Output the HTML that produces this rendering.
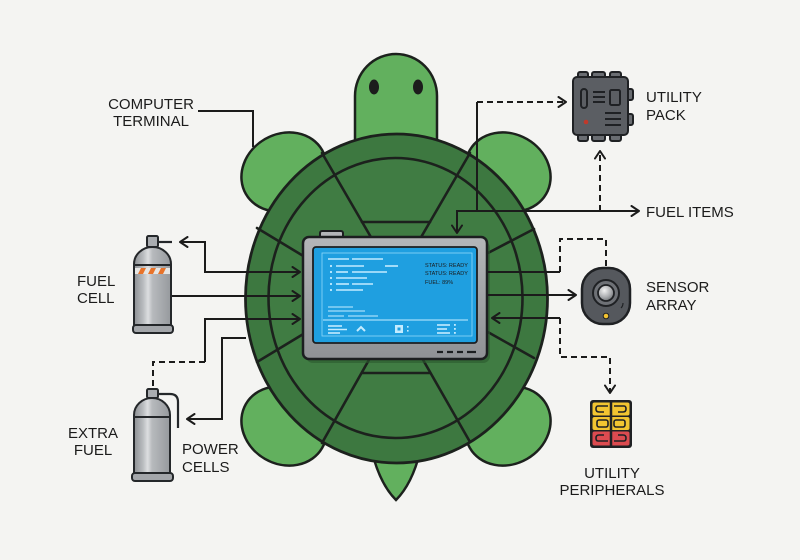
<!DOCTYPE html>
<html><head><meta charset="utf-8"><style>
html,body{margin:0;padding:0;background:#f4f4f2;}
svg{display:block;}
text{font-family:"Liberation Sans",Arial,sans-serif;fill:#1b1b1b;}
</style></head><body>
<svg width="800" height="560" viewBox="0 0 800 560" xmlns="http://www.w3.org/2000/svg">
<defs>
<marker id="ar" markerUnits="userSpaceOnUse" markerWidth="12" markerHeight="12" refX="9" refY="6" orient="auto-start-reverse">
<path d="M1.5,1 L9,6 L1.5,11" fill="none" stroke="#1b1b1b" stroke-width="2" stroke-linecap="round" stroke-linejoin="round"/>
</marker>
<linearGradient id="can" x1="0" y1="0" x2="1" y2="0">
<stop offset="0" stop-color="#8c8f93"/><stop offset="0.25" stop-color="#b9bcbf"/><stop offset="0.38" stop-color="#dcdee0"/><stop offset="0.5" stop-color="#b7babd"/><stop offset="1" stop-color="#96999d"/>
</linearGradient>
<linearGradient id="bez" x1="0" y1="0" x2="0" y2="1">
<stop offset="0" stop-color="#b4b6b9"/><stop offset="1" stop-color="#8f9195"/>
</linearGradient>
<radialGradient id="lens" cx="0.4" cy="0.35" r="0.7">
<stop offset="0" stop-color="#f2f2f2"/><stop offset="0.6" stop-color="#a9abae"/><stop offset="1" stop-color="#6b6e72"/>
</radialGradient>
</defs>
<rect width="800" height="560" fill="#f4f4f2"/>

<!-- flippers -->
<g fill="#62b05e" stroke="#1c211d" stroke-width="2.5">
<ellipse cx="284" cy="172" rx="44" ry="38" transform="rotate(-30 284 172)"/>
<ellipse cx="508" cy="172" rx="44" ry="38" transform="rotate(30 508 172)"/>
<ellipse cx="284" cy="426" rx="44" ry="38" transform="rotate(30 284 426)"/>
<ellipse cx="508" cy="426" rx="44" ry="38" transform="rotate(-30 508 426)"/>
<path d="M372,452 Q380,484 396,500 Q412,484 420,452 Z"/>
<path d="M355,150 V96 A41,42 0 0 1 437,96 V150 Z"/>
</g>
<ellipse cx="374" cy="87" rx="5" ry="7.5" fill="#1c1c1c"/>
<ellipse cx="418" cy="87" rx="5" ry="7.5" fill="#1c1c1c"/>

<!-- shell -->
<ellipse cx="396.5" cy="298.5" rx="151" ry="164.5" fill="#3d7840" stroke="#1c211d" stroke-width="2.8"/>
<ellipse cx="395.5" cy="298" rx="127" ry="140" fill="#407c43" stroke="#1c211d" stroke-width="2.6"/>
<g stroke="#1c211d" stroke-width="2.6" fill="none" stroke-linecap="round">
<line x1="322" y1="153" x2="372" y2="239"/>
<line x1="470" y1="153" x2="420" y2="239"/>
<line x1="322" y1="443" x2="370" y2="358"/>
<line x1="470" y1="442" x2="422" y2="358"/>
<line x1="362" y1="222" x2="430" y2="222"/>
<line x1="362" y1="373" x2="430" y2="373"/>
<line x1="257" y1="228" x2="305" y2="257"/>
<line x1="257" y1="362" x2="305" y2="333"/>
<line x1="534" y1="229" x2="486" y2="254"/>
<line x1="534" y1="358" x2="486" y2="331"/>
</g>

<!-- screen -->
<rect x="306" y="241" width="184" height="122" rx="7" fill="#2c5a2f" opacity="0.6"/>
<rect x="320" y="231" width="23" height="9" rx="2" fill="#b3b5b8" stroke="#1c1e20" stroke-width="2"/>
<rect x="303" y="237" width="184" height="122" rx="6" fill="url(#bez)" stroke="#1c1e20" stroke-width="2.5"/>
<rect x="313" y="247" width="164" height="96" rx="3" fill="#1f9fe0" stroke="#1c1e20" stroke-width="1.8"/>
<rect x="322" y="253" width="150" height="83" fill="none" stroke="#8fd8fb" stroke-width="0.8"/>
<g stroke="#c4ecff" stroke-width="1.6" fill="none">
<line x1="323" y1="320" x2="468" y2="320" stroke-width="0.9"/>
<line x1="328" y1="259" x2="349" y2="259"/><line x1="352" y1="259" x2="383" y2="259"/>
<line x1="336" y1="266" x2="364" y2="266"/><line x1="385" y1="266" x2="398" y2="266"/>
<line x1="336" y1="272" x2="348" y2="272"/><line x1="352" y1="272" x2="387" y2="272"/>
<line x1="336" y1="278" x2="367" y2="278"/>
<line x1="336" y1="284" x2="349" y2="284"/><line x1="352" y1="284" x2="373" y2="284"/>
<line x1="336" y1="290" x2="363" y2="290"/>
<line x1="328" y1="307" x2="353" y2="307" stroke-width="1"/>
<line x1="328" y1="311" x2="365" y2="311" stroke-width="1"/>
<line x1="328" y1="316" x2="344" y2="316" stroke-width="1"/><line x1="348" y1="316" x2="378" y2="316" stroke-width="1"/>
<line x1="328" y1="326" x2="342" y2="326"/><line x1="328" y1="329.5" x2="347" y2="329.5"/><line x1="328" y1="333" x2="340" y2="333"/>
<polyline points="357,331 361,327 365,331" stroke-width="2"/>
<line x1="437" y1="325" x2="450" y2="325"/><line x1="437" y1="329" x2="447" y2="329"/><line x1="437" y1="333" x2="450" y2="333"/>
</g>
<g fill="#c4ecff">
<circle cx="331" cy="266" r="1.1"/><circle cx="331" cy="272" r="1.1"/><circle cx="331" cy="278" r="1.1"/><circle cx="331" cy="284" r="1.1"/><circle cx="331" cy="290" r="1.1"/>
<rect x="395" y="325" width="8" height="8"/>
<rect x="407" y="326" width="1.6" height="1.6"/><rect x="407" y="330" width="1.6" height="1.6"/>
<rect x="454" y="324" width="1.8" height="1.8"/><rect x="454" y="328" width="1.8" height="1.8"/><rect x="454" y="332" width="1.8" height="1.8"/>
</g>
<rect x="397.5" y="327.5" width="3" height="3" fill="#1f9fe0"/>
<g font-size="5.5" style="font-family:'Liberation Sans',sans-serif" fill="#c4ecff">
<text x="425" y="267" fill="#c4ecff" font-size="5.5">STATUS: READY</text>
<text x="425" y="275" fill="#c4ecff" font-size="5.5">STATUS: READY</text>
<text x="425" y="284" fill="#c4ecff" font-size="5.5">FUEL: 89%</text>
</g>
<g stroke="#1c1e20" stroke-width="2.2">
<line x1="437" y1="352" x2="443" y2="352"/><line x1="447" y1="352" x2="453" y2="352"/><line x1="457" y1="352" x2="463" y2="352"/><line x1="467" y1="352" x2="476" y2="352"/>
</g>

<!-- connectors -->
<g fill="none" stroke="#1b1b1b" stroke-width="2" stroke-linejoin="miter">
<path d="M198,111 H253 V147"/>
<path d="M180,242 H205 V272 H300" marker-start="url(#ar)" marker-end="url(#ar)"/>
<path d="M172,296 H300" marker-end="url(#ar)"/>
<path d="M205,362 V319 H300" marker-end="url(#ar)"/>
<path d="M205,362 H153 V387" stroke-dasharray="6 4"/>
<path d="M246,338 H222 V419 H187" marker-end="url(#ar)"/>
<path d="M457,233 V211 H639" marker-start="url(#ar)" marker-end="url(#ar)"/>
<path d="M477,211 V102"/>
<path d="M477,102 H566" stroke-dasharray="6 4" marker-end="url(#ar)"/>
<path d="M600,211 V151" stroke-dasharray="6 4" marker-end="url(#ar)"/>
<path d="M488,272 H560"/>
<path d="M560,272 V239 H606 V266" stroke-dasharray="6 4"/>
<path d="M488,295 H576" marker-end="url(#ar)"/>
<path d="M560,318 H492" marker-end="url(#ar)"/>
<path d="M560,318 V357 H610 V393" stroke-dasharray="6 4" marker-end="url(#ar)"/>
</g>

<!-- fuel cell canister -->
<g stroke="#24272a" stroke-width="2">
<line x1="158" y1="242" x2="172" y2="242" stroke-width="2.2"/>
<rect x="147" y="236" width="11" height="11" rx="1.5" fill="#a9acb0"/>
<path d="M134,327 V264 A18.5,17 0 0 1 171,264 V327 Z" fill="url(#can)"/>
<line x1="134" y1="265" x2="171" y2="265"/>
<rect x="133" y="325" width="40" height="8" rx="3" fill="#a3a6aa"/>
</g>
<rect x="135" y="268" width="35" height="6" fill="#e6e6e4"/>
<g fill="#e8732a">
<polygon points="138,274 141,268 146,268 143,274"/><polygon points="148,274 151,268 156,268 153,274"/><polygon points="158,274 161,268 166,268 163,274"/>
</g>

<!-- extra fuel canister -->
<g stroke="#24272a" stroke-width="2" fill="none">
<path d="M158,394 H170 Q178,394 178,402 V428" stroke-width="2.2"/>
<rect x="147" y="389" width="11" height="9" rx="1.5" fill="#a9acb0"/>
<path d="M134,475 V415 A18,17 0 0 1 170,415 V475 Z" fill="url(#can)"/>
<line x1="134" y1="417" x2="170" y2="417"/>
<rect x="132" y="473" width="41" height="8" rx="3" fill="#a3a6aa"/>
</g>

<!-- utility pack -->
<g stroke="#1f2124" stroke-width="2" fill="#6a6d72">
<rect x="578" y="72" width="10" height="8" rx="2"/>
<rect x="592" y="72" width="13" height="8" rx="2"/>
<rect x="610" y="72" width="11" height="8" rx="2"/>
<rect x="578" y="132" width="10" height="9" rx="2"/>
<rect x="592" y="132" width="13" height="9" rx="2"/>
<rect x="610" y="132" width="11" height="9" rx="2"/>
<rect x="625" y="89" width="8" height="11" rx="2"/>
<rect x="625" y="114" width="8" height="11" rx="2"/>
<rect x="573" y="77" width="55" height="58" rx="4" fill="#5b5e63"/>
<rect x="581" y="89" width="6" height="19" rx="3" fill="none"/>
<rect x="610" y="90" width="10" height="15" rx="1.5" fill="none"/>
<line x1="593" y1="92" x2="605" y2="92"/><line x1="593" y1="97" x2="605" y2="97"/><line x1="593" y1="102" x2="605" y2="102"/>
<line x1="605" y1="113" x2="621" y2="113"/><line x1="605" y1="119" x2="621" y2="119"/><line x1="605" y1="125" x2="621" y2="125"/>
</g>
<circle cx="586" cy="122" r="2.3" fill="#c0392b"/>

<!-- sensor -->
<rect x="582" y="268" width="48" height="56" rx="21" fill="#55585d" stroke="#1f2124" stroke-width="2.5"/>
<circle cx="606" cy="293" r="13" fill="#6e7176" stroke="#1f2124" stroke-width="2"/>
<circle cx="606" cy="293" r="8" fill="url(#lens)" stroke="#1f2124" stroke-width="1.8"/>
<circle cx="606" cy="316" r="2.8" fill="#f2c230" stroke="#1f2124" stroke-width="1"/>
<path d="M621,308 q2,-2 2,-5" stroke="#1f2124" stroke-width="1.2" fill="none"/>

<!-- utility peripherals -->
<rect x="590" y="400" width="42" height="48" rx="3" fill="#1f2124"/>
<rect x="592.5" y="402.5" width="37" height="13" rx="2" fill="#f2c531"/>
<rect x="592.5" y="417" width="37" height="13" rx="2" fill="#f2c531"/>
<rect x="592.5" y="431.5" width="37" height="14" rx="2" fill="#dc4b50"/>
<line x1="611" y1="401" x2="611" y2="447" stroke="#1f2124" stroke-width="2.5"/>
<g stroke="#1f2124" stroke-width="1.6" fill="none">
<path d="M608,406 H598 Q596,406 596,409 Q596,412 599,412 H604"/>
<path d="M614,406 H624 Q626,406 626,409 Q626,412 623,412 H618"/>
<rect x="597" y="420" width="11" height="7" rx="2"/>
<rect x="614" y="420" width="11" height="7" rx="2"/>
<path d="M608,441 H598 Q596,441 596,438 Q596,435 599,435 H604"/>
<path d="M614,441 H624 Q626,441 626,438 Q626,435 623,435 H618"/>
</g>

<!-- labels -->
<g font-size="15">
<text x="151" y="109" text-anchor="middle">COMPUTER</text>
<text x="151" y="126" text-anchor="middle">TERMINAL</text>
<text x="77" y="286">FUEL</text>
<text x="77" y="303">CELL</text>
<text x="93" y="438" text-anchor="middle">EXTRA</text>
<text x="93" y="455" text-anchor="middle">FUEL</text>
<text x="182" y="454">POWER</text>
<text x="182" y="472">CELLS</text>
<text x="646" y="102">UTILITY</text>
<text x="646" y="120">PACK</text>
<text x="646" y="217">FUEL ITEMS</text>
<text x="646" y="292">SENSOR</text>
<text x="646" y="310">ARRAY</text>
<text x="612" y="478" text-anchor="middle">UTILITY</text>
<text x="612" y="495" text-anchor="middle">PERIPHERALS</text>
</g>
</svg>
</body></html>
